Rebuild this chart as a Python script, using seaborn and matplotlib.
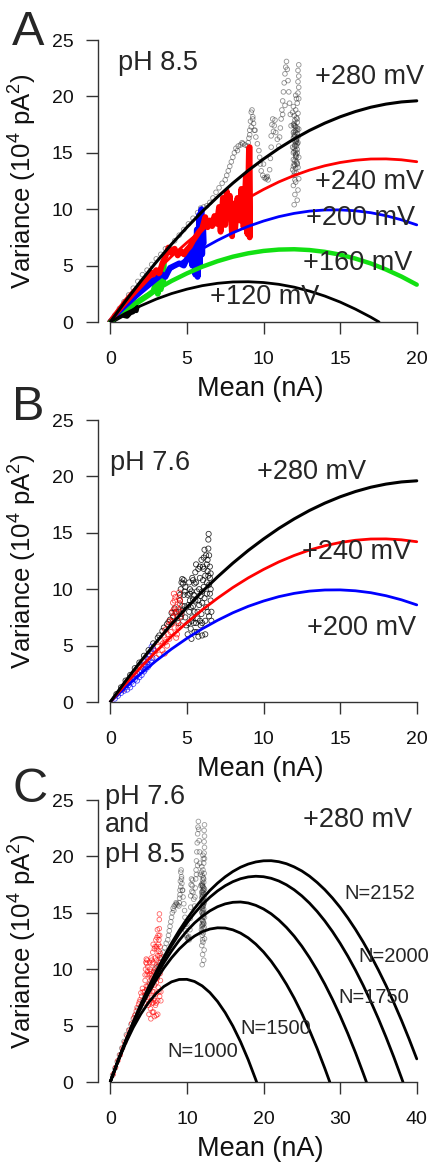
import matplotlib
matplotlib.use("Agg")
import matplotlib.pyplot as plt
import seaborn as sns

# ---- fitted parabolas, panels A and B (mean in nA, variance in 1e4 pA^2) ----
mean_ab = [0, 1, 2, 3, 4, 5, 6, 7, 8, 9, 10, 11, 12, 13, 14, 15, 16, 17, 18, 19, 20]
var_280 = [0, 1.86, 3.63, 5.31, 6.90, 8.39, 9.79, 11.09, 12.31, 13.43, 14.45,
           15.39, 16.23, 16.98, 17.63, 18.19, 18.66, 19.04, 19.32, 19.51, 19.61]
var_240 = [0, 1.59, 3.09, 4.50, 5.82, 7.04, 8.17, 9.20, 10.15, 11.00, 11.75,
           12.42, 12.99, 13.47, 13.85, 14.14, 14.34, 14.45, 14.46, 14.38, 14.21]
var_200 = [0, 1.31, 2.53, 3.66, 4.70, 5.64, 6.49, 7.24, 7.91, 8.48, 8.95,
           9.34, 9.63, 9.83, 9.93, 9.94, 9.86, 9.69, 9.42, 9.06, 8.61]
var_160 = [0, 1.05, 2.00, 2.87, 3.64, 4.31, 4.90, 5.39, 5.79, 6.09, 6.30,
           6.42, 6.45, 6.38, 6.22, 5.97, 5.62, 5.19, 4.65, 4.03, 3.31]
mean_120 = [0, 1, 2, 3, 4, 5, 6, 7, 8, 9, 10, 11, 12, 13, 14, 15, 16, 17, 17.54]
var_120 = [0, 0.77, 1.44, 2.03, 2.52, 2.91, 3.22, 3.43, 3.55, 3.57, 3.50,
           3.34, 3.09, 2.74, 2.30, 1.77, 1.14, 0.43, 0]

# ---- fitted parabolas, panel C (+280 mV, different channel numbers N) ----
mean_c = [0, 1, 2, 3, 4, 5, 6, 7, 8, 9, 10, 11, 12, 13, 14, 15, 16, 17, 18, 19, 20,
          21, 22, 23, 24, 25, 26, 27, 28, 29, 30, 31, 32, 33, 34, 35, 36, 37, 38, 39, 40]
var_n2152 = [0, 1.86, 3.63, 5.31, 6.90, 8.39, 9.79, 11.09, 12.31, 13.43, 14.45,
             15.39, 16.23, 16.98, 17.63, 18.19, 18.66, 19.04, 19.32, 19.51, 19.61,
             19.62, 19.53, 19.35, 19.07, 18.71, 18.25, 17.69, 17.05, 16.31, 15.48,
             14.55, 13.53, 12.42, 11.22, 9.92, 8.54, 7.05, 5.48, 3.81, 2.05]
mean_n2000 = mean_c[:39] + [38.2]
var_n2000 = [0, 1.86, 3.62, 5.28, 6.84, 8.30, 9.66, 10.92, 12.08, 13.14, 14.10,
             14.96, 15.72, 16.38, 16.94, 17.40, 17.76, 18.02, 18.18, 18.24, 18.20,
             18.06, 17.82, 17.48, 17.04, 16.50, 15.86, 15.12, 14.28, 13.34, 12.30,
             11.16, 9.92, 8.58, 7.14, 5.60, 3.96, 2.22, 0.38, 0]
mean_n1750 = mean_c[:34] + [33.43]
var_n1750 = [0, 1.85, 3.59, 5.22, 6.73, 8.12, 9.40, 10.57, 11.62, 12.56, 13.39,
             14.10, 14.69, 15.17, 15.54, 15.79, 15.93, 15.96, 15.87, 15.66, 15.34,
             14.91, 14.36, 13.70, 12.93, 12.04, 11.03, 9.91, 8.68, 7.33, 5.87,
             4.30, 2.61, 0.80, 0]
mean_n1500 = mean_c[:29] + [28.65]
var_n1500 = [0, 1.84, 3.55, 5.13, 6.57, 7.88, 9.06, 10.10, 11.01, 11.79, 12.43,
             12.94, 13.32, 13.56, 13.67, 13.65, 13.49, 13.20, 12.78, 12.22, 11.53,
             10.71, 9.75, 8.66, 7.44, 6.08, 4.59, 2.97, 1.21, 0]
mean_n1000 = mean_c[:20] + [19.1]
var_n1000 = [0, 1.81, 3.42, 4.83, 6.04, 7.05, 7.86, 8.47, 8.88, 9.09, 9.10,
             8.91, 8.52, 7.93, 7.14, 6.15, 4.96, 3.57, 1.98, 0.19, 0]

# ---- measured traces, pH 8.5 ----
ph85_280_mean = [0.3, 0.6, 0.9, 1.2, 1.5, 1.8, 2.1, 2.4, 2.7, 3.0, 3.3, 3.6, 3.9, 4.2, 4.5,
                 4.8, 5.1, 5.4, 5.7, 5.9, 6.1,
                 6.3, 6.5, 6.7, 6.9, 7.1, 7.3, 7.5, 7.6, 7.7, 7.8, 7.9, 8.0, 8.1, 8.2, 8.35,
                 8.5, 8.65, 8.8, 8.95, 9.05, 9.1, 9.15, 9.2, 9.25, 9.3, 9.35, 9.45, 9.5, 9.6,
                 9.7, 9.75, 9.8, 9.85, 9.95, 10.05, 10.15, 10.25, 10.3, 10.4, 10.45, 10.5,
                 10.5, 10.55, 10.6, 10.7, 10.8, 10.9, 11.0, 11.05, 11.1, 11.15, 11.2, 11.25,
                 11.3, 11.35, 11.4, 11.45, 11.5, 11.55, 11.6, 11.65, 11.7, 11.75, 11.8,
                 12.00, 12.20, 12.05, 12.25, 11.95, 12.10, 12.30, 12.00, 12.15, 11.90, 12.25,
                 12.05, 12.15, 11.95, 12.30, 12.10, 12.00, 12.20, 11.90, 12.05, 12.25, 12.15,
                 11.95, 12.05, 12.20, 12.00, 12.30, 12.10, 11.95, 12.20, 12.05, 12.15, 12.00,
                 12.25, 12.10, 11.95, 12.20, 12.30, 12.25, 12.30, 12.25, 12.30, 12.25, 12.30,
                 12.10, 12.05, 12.20, 12.10, 12.00, 12.25, 11.90, 12.15,
                 9.0, 9.1, 9.2, 9.3, 9.4, 8.3, 8.6, 10.2, 10.0, 10.65, 10.75, 11.25, 11.4,
                 12.0, 12.1, 12.2, 12.05, 12.15, 11.95, 12.1, 12.0, 12.2,
                 12.0, 12.1, 12.2, 12.05, 12.15, 11.95, 12.1, 12.0, 12.2, 12.05,
                 12.15, 12.0, 12.1, 12.2, 12.05, 11.95, 12.1, 12.15, 12.0, 12.2]
ph85_280_var = [0.6, 1.2, 1.8, 2.4, 3.0, 3.6, 4.2, 4.6, 5.1, 5.6, 6.0, 6.5, 6.6, 7.2, 7.7,
                8.2, 8.7, 9.2, 9.7, 10.1, 10.2,
                10.3, 10.6, 11.0, 11.5, 11.9, 12.3, 12.6, 13.0, 13.4, 13.8, 14.2, 14.6, 15.0,
                15.4, 15.6, 15.7, 15.8, 15.7, 15.6, 16.3, 17.0, 17.8, 18.6, 18.8, 18.2, 17.6,
                17.0, 16.4, 15.8, 15.2, 14.6, 14.0, 13.4, 13.0, 12.8, 12.7, 12.9, 12.6, 13.5,
                14.5, 15.5, 16.5, 17.5, 18.0, 17.4, 16.8, 16.2, 15.6, 16.4, 17.2, 18.0, 18.8,
                19.6, 20.4, 21.2, 22.0, 22.6, 23.1, 22.4, 21.4, 20.4, 19.4, 18.4, 17.4,
                10.4, 10.8, 11.3, 11.7, 12.1, 12.4, 12.7, 13.0, 13.2, 13.5, 13.7, 13.9, 14.2,
                14.4, 14.6, 14.8, 15.1, 15.3, 15.5, 15.7, 15.9, 16.1, 16.3, 16.5, 16.7, 16.9,
                17.1, 17.3, 17.5, 17.7, 17.9, 18.1, 18.3, 18.5, 18.8, 19.1, 19.4, 19.8, 20.3,
                20.8, 21.3, 21.8, 22.3, 22.8, 20.1, 12.6, 14.0, 15.9, 17.6, 16.4, 18.6, 19.8,
                15.9, 16.6, 17.3, 18.0, 17.0, 15.2, 15.9, 12.8, 14.0, 16.9, 17.9, 18.4, 19.2,
                14.0, 14.6, 15.0, 15.6, 16.0, 16.8, 17.0, 17.4, 18.0,
                13.3, 13.6, 14.1, 14.3, 14.7, 15.0, 15.2, 15.4, 15.8, 16.0,
                16.2, 16.6, 16.8, 17.2, 17.4, 13.8, 14.9, 15.6, 16.4, 17.0]

ph85_240_mean = [0, 0.5, 1.0, 1.5, 2.0, 2.4, 2.6, 2.8, 3.0, 3.2, 3.4, 3.6, 3.8, 4.0, 4.2,
                 4.4, 4.6, 4.8, 5.0, 5.2, 5.4, 5.6, 5.8, 6.0, 6.2, 6.35, 6.5, 6.65, 6.8,
                 6.95, 7.1, 7.2, 7.35, 7.5, 7.6, 7.7, 7.8, 7.95, 8.05, 8.15, 8.3, 8.45,
                 8.55, 8.7, 8.85, 8.95, 9.05, 9.1, 9.1]
ph85_240_var = [0, 0.9, 1.8, 2.6, 3.3, 3.9, 4.4, 4.2, 4.6, 4.3, 5.2, 5.8, 6.6, 6.1, 6.5,
                5.9, 6.3, 6.0, 6.4, 6.7, 7.2, 7.6, 8.0, 8.3, 9.3, 8.4, 9.0, 8.5, 9.4,
                8.7, 10.2, 8.0, 11.0, 8.6, 11.6, 9.4, 11.2, 7.6, 10.5, 8.2, 11.0, 9.0,
                11.8, 8.4, 13.0, 7.8, 15.4, 7.5, 15.5]
ph85_200_mean = [0, 0.5, 1.0, 1.5, 2.0, 2.5, 3.0, 3.3, 3.6, 3.9, 4.2, 4.5, 4.8, 5.0, 5.2,
                 5.35, 5.45, 5.55, 5.65, 5.7, 5.8, 5.85, 5.95, 6.0, 6.05, 6.1]
ph85_200_var = [0, 0.8, 1.6, 2.3, 2.9, 3.4, 3.9, 4.3, 4.0, 4.8, 5.0, 5.2, 5.0, 5.6, 6.2,
                5.0, 7.0, 4.2, 8.2, 4.0, 9.5, 5.0, 10.0, 6.0, 9.0, 7.0]
ph85_160_mean = [0, 0.5, 1.0, 1.5, 2.0, 2.5, 2.8, 3.0, 3.1, 3.2, 3.3, 3.4, 3.45, 3.5]
ph85_160_var = [0, 0.55, 1.05, 1.5, 1.95, 2.4, 2.7, 3.5, 2.5, 4.2, 2.9, 5.0, 3.5, 5.3]
ph85_120_mean = [0, 0.4, 0.8, 1.1, 1.3, 1.5, 1.6, 1.7, 1.75]
ph85_120_var = [0, 0.3, 0.6, 0.5, 0.8, 0.9, 1.1, 1.0, 1.3]

# ---- measured traces, pH 7.6 ----
ph76_280_mean = [0.4, 0.7, 1.0, 1.3, 1.6, 1.9, 2.2, 2.5, 2.8, 3.1, 3.4, 3.7, 3.9, 4.1, 4.3,
                 4.45, 4.5, 4.55, 4.6, 4.65, 4.7, 4.75, 4.8, 4.85, 4.9, 4.95, 4.6, 4.7, 4.8,
                 4.9, 5.05, 5.1, 5.15, 5.2, 5.2, 5.25, 5.3, 5.35, 5.4, 5.45, 5.5, 5.55, 5.6,
                 5.6, 5.65, 5.7, 5.75, 5.8, 5.85, 5.85, 5.9, 5.95, 6.0, 6.0, 6.05, 6.1, 6.1,
                 6.15, 6.2, 6.2, 6.25, 6.3, 6.3, 6.35, 6.35, 6.4, 6.4, 6.42, 6.45, 6.5, 6.5,
                 6.55, 6.55, 6.6, 6.6, 5.5, 5.75, 6.45, 6.0, 5.4, 5.3,
                 5.1, 5.2, 5.3, 5.4, 5.5, 5.6, 5.7, 5.8, 5.9, 6.0, 6.1, 6.2, 6.3, 6.4, 6.5,
                 5.15, 5.35, 5.55, 5.75, 5.95, 6.15, 6.35, 6.55,
                 5.05, 5.25, 5.45, 5.65, 5.85, 6.05, 6.25, 6.45,
                 4.55, 4.65, 4.75, 4.85, 3.2, 3.5, 3.8, 4.0, 4.2]
ph76_280_var = [0.7, 1.3, 1.9, 2.4, 3.0, 3.5, 4.1, 4.6, 5.2, 5.7, 6.3, 6.9, 7.3, 7.6, 8.0,
                7.0, 8.0, 9.0, 10.0, 10.6, 10.9, 10.5, 9.5, 8.5, 7.5, 6.8, 7.5, 8.5, 10.8,
                10.2, 6.0, 7.0, 8.0, 9.0, 10.0, 6.5, 5.6, 7.5, 8.5, 9.5, 10.5, 11.5, 12.2,
                7.0, 6.2, 8.0, 9.0, 10.0, 11.0, 12.0, 6.8, 7.8, 8.8, 9.8, 10.8, 11.8, 12.8,
                13.5, 6.0, 7.2, 8.4, 9.6, 10.6, 11.6, 12.6, 13.6, 14.4, 14.9, 13.0, 12.0, 11.0,
                10.0, 9.0, 8.0, 7.2, 6.2, 5.8, 7.6, 5.9, 10.8, 9.8,
                8.6, 9.6, 7.2, 9.1, 8.0, 10.6, 7.4, 8.6, 9.4, 7.0, 10.2, 11.2, 12.2, 11.2, 9.6,
                10.6, 11.0, 9.0, 11.8, 12.6, 9.2, 8.0, 11.4,
                9.5, 8.4, 7.0, 9.8, 7.2, 12.0, 13.0, 10.4,
                9.5, 7.8, 8.2, 9.8, 5.9, 6.6, 7.1, 7.9, 8.3]
ph76_240_mean = [0.8, 1.2, 1.6, 2.0, 2.3, 2.6, 2.9, 3.1, 3.2, 3.3, 3.4, 3.5, 3.55, 3.6, 3.7,
                 3.8, 3.85, 3.9, 3.95, 4.0, 4.05, 4.1, 4.1, 4.15, 4.2, 4.2, 4.25, 4.3, 4.35,
                 4.4, 4.45, 4.5, 4.5, 4.55, 4.6, 4.6, 4.65, 3.0, 3.6, 4.3,
                 4.05, 4.15, 4.25, 4.35, 4.45, 4.55, 3.75, 3.45]
ph76_240_var = [1.1, 1.8, 2.5, 3.1, 3.6, 4.1, 4.5, 4.9, 4.2, 5.4, 4.6, 5.9, 4.3, 6.4, 5.0,
                6.8, 5.6, 7.2, 6.2, 6.9, 8.0, 8.8, 7.5, 9.6, 9.0, 6.6, 7.9, 8.4, 6.0,
                7.2, 8.2, 9.2, 9.7, 8.7, 7.6, 6.8, 8.0, 3.9, 5.3, 5.7,
                7.1, 8.2, 9.3, 7.6, 6.6, 9.0, 6.0, 5.2]
ph76_200_mean = [0.3, 0.5, 0.7, 0.9, 1.0, 1.1, 1.2, 1.3, 1.4, 1.5, 1.6, 1.7, 1.75, 1.8, 1.9,
                 2.0, 2.05, 2.1, 2.2, 2.25, 2.3, 2.4, 2.45, 2.5, 2.55, 2.6, 2.65, 2.7, 2.75,
                 2.8, 1.1, 1.5, 0.8, 2.7, 2.2]
ph76_200_var = [0.3, 0.55, 0.8, 1.0, 1.3, 1.1, 1.5, 1.3, 1.8, 1.6, 2.0, 2.3, 1.9, 2.5, 2.2,
                2.8, 2.4, 3.0, 2.7, 3.3, 2.9, 3.5, 3.1, 3.8, 3.3, 4.1, 3.6, 4.4, 3.9,
                4.7, 1.6, 2.1, 1.2, 4.9, 3.6]

RED = "#ff0000"
BLUE = "#0000ff"
GREEN = "#12e012"
AXC = "#333333"

sns.set_style("ticks")
plt.rcParams["font.family"] = ["Liberation Sans", "DejaVu Sans"]
plt.rcParams["mathtext.fontset"] = "custom"
plt.rcParams["mathtext.rm"] = "Liberation Sans"
plt.rcParams["mathtext.default"] = "regular"

fig = plt.figure(figsize=(4.3, 11.66), dpi=100)
left, width, height = 0.2279, 0.7698, 0.24185
ax_a = fig.add_axes([left, 0.72384, width, height])
ax_b = fig.add_axes([left, 0.39794, width, height])
ax_c = fig.add_axes([left, 0.07204, width, height])

LAB = 19.5    # "+280 mV", "pH 8.5"
NLAB = 14.5   # "N=2152"


def style_axes(ax, xmax):
    pad = xmax * 0.04
    ax.set_xlim(-pad, xmax + pad)
    ax.set_ylim(0, 25)
    ax.set_xticks([xmax * k / 4 for k in range(5)])
    ax.set_yticks([0, 5, 10, 15, 20, 25])
    ax.set_xticklabels([f"{xmax * k / 4:g}" for k in range(5)])
    for s in ("top", "right"):
        ax.spines[s].set_visible(False)
    ax.spines["left"].set_bounds(0, 25)
    ax.spines["bottom"].set_bounds(0, xmax)
    for s in ("left", "bottom"):
        ax.spines[s].set_color(AXC)
        ax.spines[s].set_linewidth(1.0)
    ax.tick_params(axis="both", direction="out", length=8.6, width=1.0,
                   color=AXC, labelsize=14, labelcolor="#111111")
    ax.tick_params(axis="y", pad=9)
    ax.tick_params(axis="x", pad=12)
    ax.set_xlabel("Mean (nA)", fontsize=19.5, color="#111111")
    ax.set_ylabel("Variance (10$^4$ pA$^2$)", fontsize=18.5, color="#111111")
    ax.yaxis.set_label_coords(-0.178, 0.5)
    ax.xaxis.set_label_coords(0.49, -0.19)
    ax.grid(False)


def cloud(ax, x, y, color, alpha, s=11, lw=0.6):
    sns.scatterplot(x=x, y=y, ax=ax, marker="o", s=s, facecolor="none",
                    edgecolor=color, linewidth=lw, alpha=alpha, zorder=2)


def trace(ax, x, y, color, lw, z=3):
    sns.lineplot(x=x, y=y, ax=ax, color=color, lw=lw, sort=False,
                 estimator=None, zorder=z)


# ---------------- panel A: pH 8.5 ----------------
ax = ax_a
cloud(ax, ph85_280_mean, ph85_280_var, "#222222", 0.5)
trace(ax, ph85_160_mean, ph85_160_var, GREEN, 4.2)
trace(ax, ph85_200_mean, ph85_200_var, BLUE, 4.2)
trace(ax, ph85_240_mean, ph85_240_var, RED, 4.2)
trace(ax, ph85_120_mean, ph85_120_var, "black", 3.5)
trace(ax, mean_ab, var_160, GREEN, 3.2, 4)
trace(ax, mean_ab, var_200, BLUE, 2.0, 4)
trace(ax, mean_ab, var_240, RED, 2.0, 4)
trace(ax, mean_120, var_120, "black", 2.0, 4)
trace(ax, mean_ab, var_280, "black", 2.2, 4)
ax.text(0.5, 22.96, "pH 8.5", fontsize=LAB, va="center", ha="left")
for xt, yt, lab in [(13.36, 21.7, "+280 mV"), (13.36, 12.44, "+240 mV"),
                    (12.8, 9.19, "+200 mV"), (12.6, 5.2, "+160 mV"),
                    (6.51, 2.25, "+120 mV")]:
    ax.text(xt, yt, lab, fontsize=LAB, va="center", ha="left", zorder=5,
            clip_on=False)
style_axes(ax, 20)

# ---------------- panel B: pH 7.6 ----------------
ax = ax_b
cloud(ax, ph76_280_mean, ph76_280_var, "black", 0.8, s=14)
cloud(ax, ph76_240_mean, ph76_240_var, RED, 0.7, s=14)
cloud(ax, ph76_200_mean, ph76_200_var, BLUE, 0.7, s=14)
trace(ax, mean_ab, var_200, BLUE, 2.0, 4)
trace(ax, mean_ab, var_240, RED, 2.0, 4)
trace(ax, mean_ab, var_280, "black", 2.2, 4)
ax.text(0.0, 21.16, "pH 7.6", fontsize=LAB, va="center", ha="left")
for xt, yt, lab in [(9.56, 20.42, "+280 mV"), (12.49, 13.33, "+240 mV"),
                    (12.81, 6.53, "+200 mV")]:
    ax.text(xt, yt, lab, fontsize=LAB, va="center", ha="left", zorder=5,
            clip_on=False)
style_axes(ax, 20)

# ---------------- panel C: +280 mV, both pH ----------------
ax = ax_c
cloud(ax, ph85_280_mean, ph85_280_var, "#222222", 0.45)
cloud(ax, ph76_280_mean, ph76_280_var, RED, 0.6)
for mx, vy in [(mean_n1000, var_n1000), (mean_n1500, var_n1500),
               (mean_n1750, var_n1750), (mean_n2000, var_n2000),
               (mean_c, var_n2152)]:
    trace(ax, mx, vy, "black", 2.0, 4)
for yt, lab in [(25.29, "pH 7.6"), (22.78, "and"), (20.12, "pH 8.5")]:
    ax.text(-0.65, yt, lab, fontsize=LAB, va="center", ha="left", clip_on=False)
ax.text(25.2, 23.23, "+280 mV", fontsize=LAB, va="center", ha="left")
for xt, yt, lab in [(30.6, 16.73, "N=2152"), (32.35, 11.17, "N=2000"),
                    (29.75, 7.48, "N=1750"), (17.03, 4.76, "N=1500"),
                    (7.51, 2.69, "N=1000")]:
    ax.text(xt, yt, lab, fontsize=NLAB, va="center", ha="left", zorder=5,
            clip_on=False)
style_axes(ax, 40)

# panel letters
for yb, lab in [(0.9614, "A"), (0.6398, "B"), (0.3122, "C")]:
    fig.text(0.028, yb, lab, fontsize=35, va="baseline", ha="left")

fig.savefig("out.png", dpi=100)
